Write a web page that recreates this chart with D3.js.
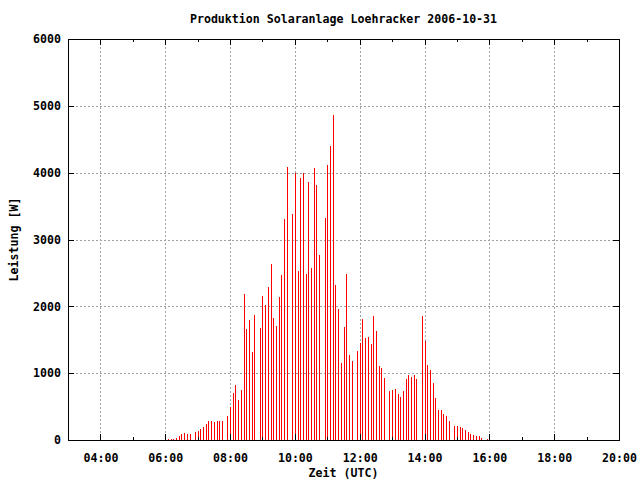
<!DOCTYPE html>
<html><head><meta charset="utf-8">
<script src="https://cdn.jsdelivr.net/npm/d3@7"></script>
<style>
body{margin:0;background:#fff}
svg{display:block}
text{font-family:"DejaVu Sans Mono","Liberation Mono",monospace;font-weight:bold;font-size:11.6px;fill:#000}
</style>
</head><body>
<svg id="chart" width="640" height="480"></svg>
<script>
const chartTitle = "Produktion Solaranlage Loehracker 2006-10-31";
const xAxisTitle = "Zeit (UTC)";
const yAxisTitle = "Leistung [W]";
const xDomain = ["03:00", "20:00"];
const xTickLabels = ["04:00","06:00","08:00","10:00","12:00","14:00","16:00","18:00","20:00"];
const xMinorTicks = ["03:00","05:00","07:00","09:00","11:00","13:00","15:00","17:00","19:00"];
const yTickLabels = [0, 1000, 2000, 3000, 4000, 5000, 6000];

const redTimes = [
  "06:05","06:10","06:15","06:20","06:25","06:30","06:35","06:40","06:45",
  "06:55","07:00","07:05","07:10","07:15","07:20","07:25","07:30","07:35","07:40","07:45",
  "07:55","08:00","08:05","08:10","08:15","08:20","08:25","08:30","08:35","08:40","08:45",
  "08:55","09:00","09:05","09:10","09:15","09:20","09:25","09:30","09:35","09:40","09:45",
  "09:55","10:00","10:05","10:10","10:15","10:20","10:25","10:30","10:35","10:40","10:45",
  "10:55","11:00","11:05","11:10","11:15","11:20","11:25","11:30","11:35","11:40","11:45",
  "11:55","12:00","12:05","12:10","12:15","12:20","12:25","12:30","12:35","12:40","12:45",
  "12:55","13:00","13:05","13:10","13:15","13:20","13:25","13:30","13:35","13:40","13:45",
  "13:55","14:00","14:05","14:10","14:15","14:20","14:25","14:30","14:35","14:40","14:45",
  "14:55","15:00","15:05","15:10","15:15","15:20","15:25","15:30","15:35","15:40","15:45",
  "15:55","16:00"
];
const redValues = [
  15,15,15,30,65,90,105,90,90,
  120,135,165,195,240,285,285,270,285,285,285,
  360,498,708,823,599,748,2185,1661,1796,1322,1870,
  1676,2155,2020,2289,2634,1825,1706,2140,2469,3307,4085,
  3382,3990,2529,3920,3995,2489,3860,2579,4070,3816,2768,
  3322,4115,4399,4863,2319,1960,1152,1691,2489,1272,1182,
  1332,1451,1811,1526,1541,1436,1855,1631,1107,1077,928,
  733,748,763,688,643,733,913,973,943,973,913,
  1855,1481,1122,1047,853,628,449,449,389,359,284,
  209,209,195,180,150,120,90,75,60,60,30,
  15,10
];
const blackTimes = ["06:00","09:00","16:00"];
const blackValues = [60, 35, 60];

const parse = d3.timeParse("%H:%M");
const fmt = d3.timeFormat("%H:%M");
const pL = 68, pR = 619, pT = 39, pB = 440;

const svg = d3.select("#chart");
const x = d3.scaleTime().domain(xDomain.map(parse)).range([pL, pR]);
const y = d3.scaleLinear().domain([0, 6000]).range([pB, pT]);
const px = v => Math.round(v) + 0.5;

// grid
const grid = svg.append("g").attr("stroke", "#a0a0a0").attr("stroke-width", 1)
  .attr("stroke-dasharray", "2,2").attr("shape-rendering", "crispEdges");
grid.selectAll("line.vx").data(xTickLabels.map(parse).filter(d => x(d) < pR - 1)).join("line")
  .attr("class", "vx")
  .attr("x1", d => px(x(d))).attr("x2", d => px(x(d))).attr("y1", pT).attr("y2", pB);
grid.selectAll("line.hy").data(yTickLabels.filter(v => v > 0 && v < 6000)).join("line")
  .attr("class", "hy")
  .attr("x1", pL).attr("x2", pR).attr("y1", d => px(y(d))).attr("y2", d => px(y(d)));

// impulses
const bars = svg.append("g").attr("shape-rendering", "crispEdges").attr("stroke-width", 1);
bars.selectAll("line.b").data(blackTimes.map((t, i) => ({t: parse(t), v: blackValues[i]}))).join("line")
  .attr("class", "b").attr("stroke", "#000")
  .attr("x1", d => px(x(d.t))).attr("x2", d => px(x(d.t)))
  .attr("y1", y(0)).attr("y2", d => y(d.v));
bars.selectAll("line.r").data(redTimes.map((t, i) => ({t: parse(t), v: redValues[i]}))).join("line")
  .attr("class", "r").attr("stroke", "#ff0000")
  .attr("x1", d => px(x(d.t))).attr("x2", d => px(x(d.t)))
  .attr("y1", y(0)).attr("y2", d => y(d.v));

// axes (gnuplot style: ticks inward, mirrored)
const xAxis = svg.append("g").attr("transform", `translate(0,${pB})`)
  .call(d3.axisBottom(x).tickValues(xTickLabels.map(parse)).tickFormat(fmt).tickSize(-6).tickPadding(13));
const xAxisTop = svg.append("g").attr("transform", `translate(0,${pT})`)
  .call(d3.axisTop(x).tickValues(xTickLabels.map(parse)).tickFormat("").tickSize(-6));
const xMinB = svg.append("g").attr("transform", `translate(0,${pB})`)
  .call(d3.axisBottom(x).tickValues(xMinorTicks.map(parse)).tickFormat("").tickSize(-3));
const xMinT = svg.append("g").attr("transform", `translate(0,${pT})`)
  .call(d3.axisTop(x).tickValues(xMinorTicks.map(parse)).tickFormat("").tickSize(-3));
const yAxis = svg.append("g").attr("transform", `translate(${pL},0)`)
  .call(d3.axisLeft(y).tickValues(yTickLabels).tickFormat(d3.format("d")).tickSize(-6).tickPadding(7));
const yAxisR = svg.append("g").attr("transform", `translate(${pR},0)`)
  .call(d3.axisRight(y).tickValues(yTickLabels).tickFormat("").tickSize(-6));

[xAxis, xAxisTop, xMinB, xMinT, yAxis, yAxisR].forEach(g => {
  g.select(".domain").remove();
  g.attr("shape-rendering", "crispEdges");
  g.selectAll("line").attr("stroke", "#000");
  g.selectAll("text").attr("font-family", null).attr("font-size", null).style("fill", "#000");
});
xAxis.selectAll("text").attr("dy", null).attr("y", 22);

// border
svg.append("rect").attr("x", pL + 0.5).attr("y", pT + 0.5)
  .attr("width", pR - pL).attr("height", pB - pT)
  .attr("fill", "none").attr("stroke", "#000").attr("shape-rendering", "crispEdges");

// titles
svg.append("text").attr("x", (pL + pR) / 2).attr("y", 23).attr("text-anchor", "middle").text(chartTitle);
svg.append("text").attr("x", (pL + pR) / 2).attr("y", 477).attr("text-anchor", "middle").text(xAxisTitle);
svg.append("text").attr("transform", `translate(18,${(pT + pB) / 2}) rotate(-90)`)
  .attr("text-anchor", "middle").text(yAxisTitle);
</script>
</body></html>
